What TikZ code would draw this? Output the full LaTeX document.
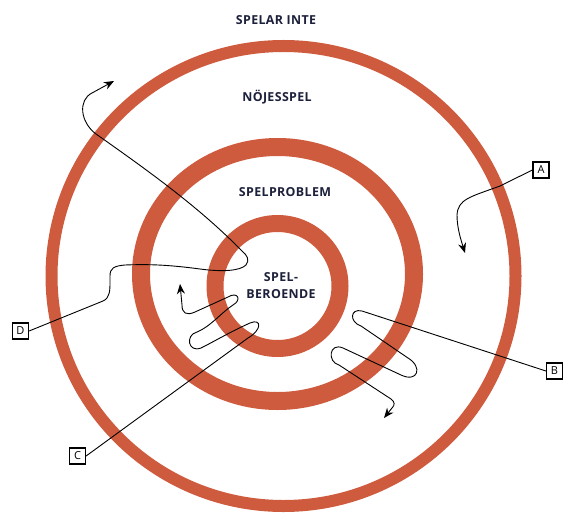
\documentclass[tikz,border=0pt]{standalone}
\usepackage{fontspec}
\setmainfont{Open Sans}
\newfontfamily\labfont[LetterSpace=3]{Open Sans}
\usetikzlibrary{arrows.meta}
\definecolor{ringc}{RGB}{206,91,61}
\definecolor{ink}{RGB}{28,32,58}
\begin{document}
\begin{tikzpicture}[x=1pt,y=-1pt,
 lbl/.style={font=\labfont\bfseries\fontsize{12.4}{17}\selectfont,text=ink,inner sep=0pt},
 tag/.style={draw=black,line width=1.2pt,minimum width=16pt,minimum height=16pt,inner sep=0pt,font=\fontsize{11}{11}\selectfont},
 trail/.style={draw=black,line width=0.9pt},
 arr/.style={trail,-{Stealth[length=10pt,width=8pt]}}]
\useasboundingbox (0,0) rectangle (564,513);
% rings
\draw[ringc, line width=12pt] (283.5,276) ellipse [x radius=232, y radius=230];
\draw[ringc, line width=18pt] (277.5,274) ellipse [x radius=136.5, y radius=127];
\draw[ringc, line width=17pt] (277.5,286) circle [radius=62.5];
% labels
\node[lbl] (t1) at (276,20) {SPELAR INTE};
\node[lbl] (t2) at (277,97) {NÖJESSPEL};
\node[lbl] (t3) at (285,192) {SPELPROBLEM};
\node[lbl,align=center] (t4) at (281,285.5) {SPEL-\\BEROENDE};
% tags
\node[tag] (A) at (541,170) {A};
\node[tag] (B) at (554.5,371) {B};
\node[tag] (C) at (77.5,456) {C};
\node[tag] (D) at (20.5,331) {D};
% path A
\draw[arr] (A.west) -- (500,186) .. controls (470,197) and (458,199) .. (457,215) .. controls (457,228) and (461,240) .. (465,253);
% path B
\draw[arr] (B.west) -- (362,311) .. controls (350,308) and (349,322) .. (361,326) -- (408,358) .. controls (423,367) and (418,383) .. (401,375) -- (343,348) .. controls (329,342) and (327,362) .. (339,365) -- (391,399) .. controls (395,402) and (395,405) .. (392,408) -- (384,418);
% path C
\draw[arr] (C.east) -- (248,338) .. controls (262,330) and (262,318) .. (250,323) .. controls (230,332) and (215,341) .. (201,348) .. controls (188,353) and (185,335) .. (197,332) .. controls (210,327) and (222,312) .. (233,305) .. controls (242,300) and (238,291) .. (228,297) -- (195,312) .. controls (186,316) and (182,313) .. (182,305) -- (180,284);
% path D
\draw[arr] (D.east) -- (103,301) .. controls (110,298) and (110,290) .. (110,282) -- (110,276) .. controls (110,268) and (114,266) .. (125,265) .. controls (150,264) and (170,265) .. (200,269) .. controls (222,272) and (240,271) .. (246,265) .. controls (250,260) and (247,255) .. (242,251) .. controls (200,208) and (150,172) .. (96,134) .. controls (80,122) and (78,100) .. (92,93) -- (114,81);
\end{tikzpicture}
\end{document}
